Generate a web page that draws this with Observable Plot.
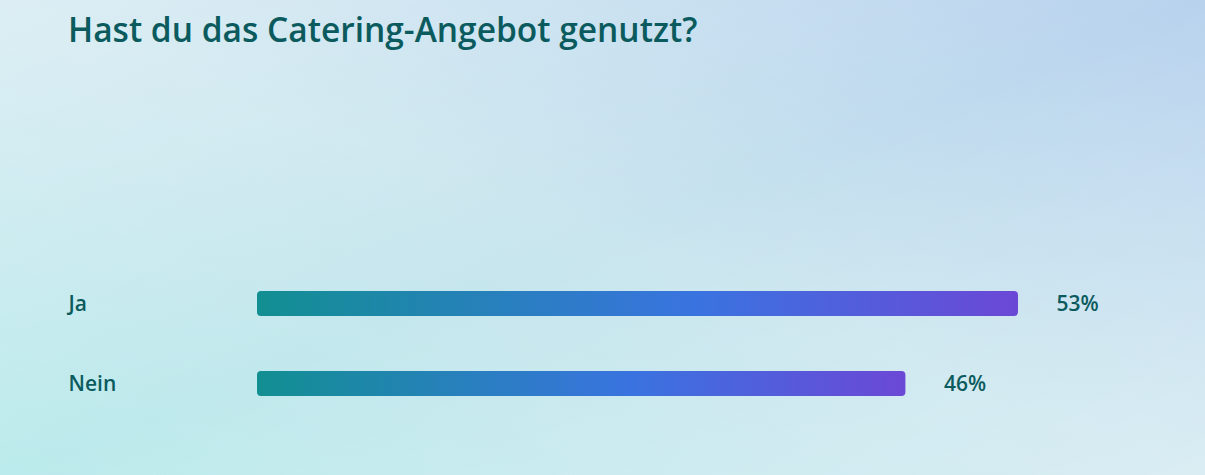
<!DOCTYPE html>
<html>
<head>
<meta charset="utf-8">
<script src="https://cdn.jsdelivr.net/npm/d3@7"></script>
<script src="https://cdn.jsdelivr.net/npm/@observablehq/plot@0.6"></script>
<style>
  html, body { margin: 0; padding: 0; }
  body {
    width: 1205px; height: 475px; overflow: hidden; position: relative;
    font-family: "Open Sans", "Noto Sans", sans-serif;
    background:
      linear-gradient(to bottom right, rgba(255,255,255,0.36), rgba(255,255,255,0) 50%, rgba(255,255,255,0.30)),
      linear-gradient(to top right, #bbebec 0%, #c9e5ee 50%, #b8d2ee 100%);
  }
  #title {
    position: absolute; left: 68px; top: 13px;
    font-size: 33.5px; line-height: 33.5px; font-weight: 600; color: #0b5b5e;
    white-space: nowrap;
  }
  #chart { position: absolute; left: 0; top: 70px; }
</style>
</head>
<body>
<div id="title">Hast du das Catering-Angebot genutzt?</div>
<div id="chart"></div>
<script>
const categories = ["Ja", "Nein"];
const values = [53.4, 45.5];
const valueLabels = ["53%", "46%"];

const data = categories.map((c, i) => ({category: c, value: values[i], label: valueLabels[i]}));

const textColor = "#0b5b5e";

const plot = Plot.plot({
  width: 1205,
  height: 405,
  marginLeft: 257,
  marginRight: 187,
  marginTop: 0,
  marginBottom: 0,
  style: {background: "transparent", fontFamily: "Open Sans, Noto Sans, sans-serif"},
  x: {domain: [0, d3.max(values)], axis: null},
  y: {domain: categories, range: [221, 326], paddingInner: 0.6875, paddingOuter: 0, axis: null},
  marks: [
    Plot.barX(data, {x: "value", y: "category", fill: "url(#barGrad)", rx: 4}),
    Plot.text(data, {
      y: "category", text: "category", frameAnchor: "left", textAnchor: "start",
      dx: -189, fill: textColor, fontSize: 21, fontWeight: 600
    }),
    Plot.text(data, {
      x: "value", y: "category", text: "label", textAnchor: "start",
      dx: 38, fill: textColor, fontSize: 21, fontWeight: 600
    })
  ]
});

const svg = d3.select(plot);
const defs = svg.insert("defs", ":first-child");
const g = defs.append("linearGradient").attr("id", "barGrad")
  .attr("x1", "0%").attr("x2", "100%").attr("y1", "0%").attr("y2", "0%");
g.append("stop").attr("offset", "0%").attr("stop-color", "#128f92");
g.append("stop").attr("offset", "58%").attr("stop-color", "#3a73e0");
g.append("stop").attr("offset", "100%").attr("stop-color", "#6b48d6");

document.getElementById("chart").appendChild(plot);
</script>
</body>
</html>
